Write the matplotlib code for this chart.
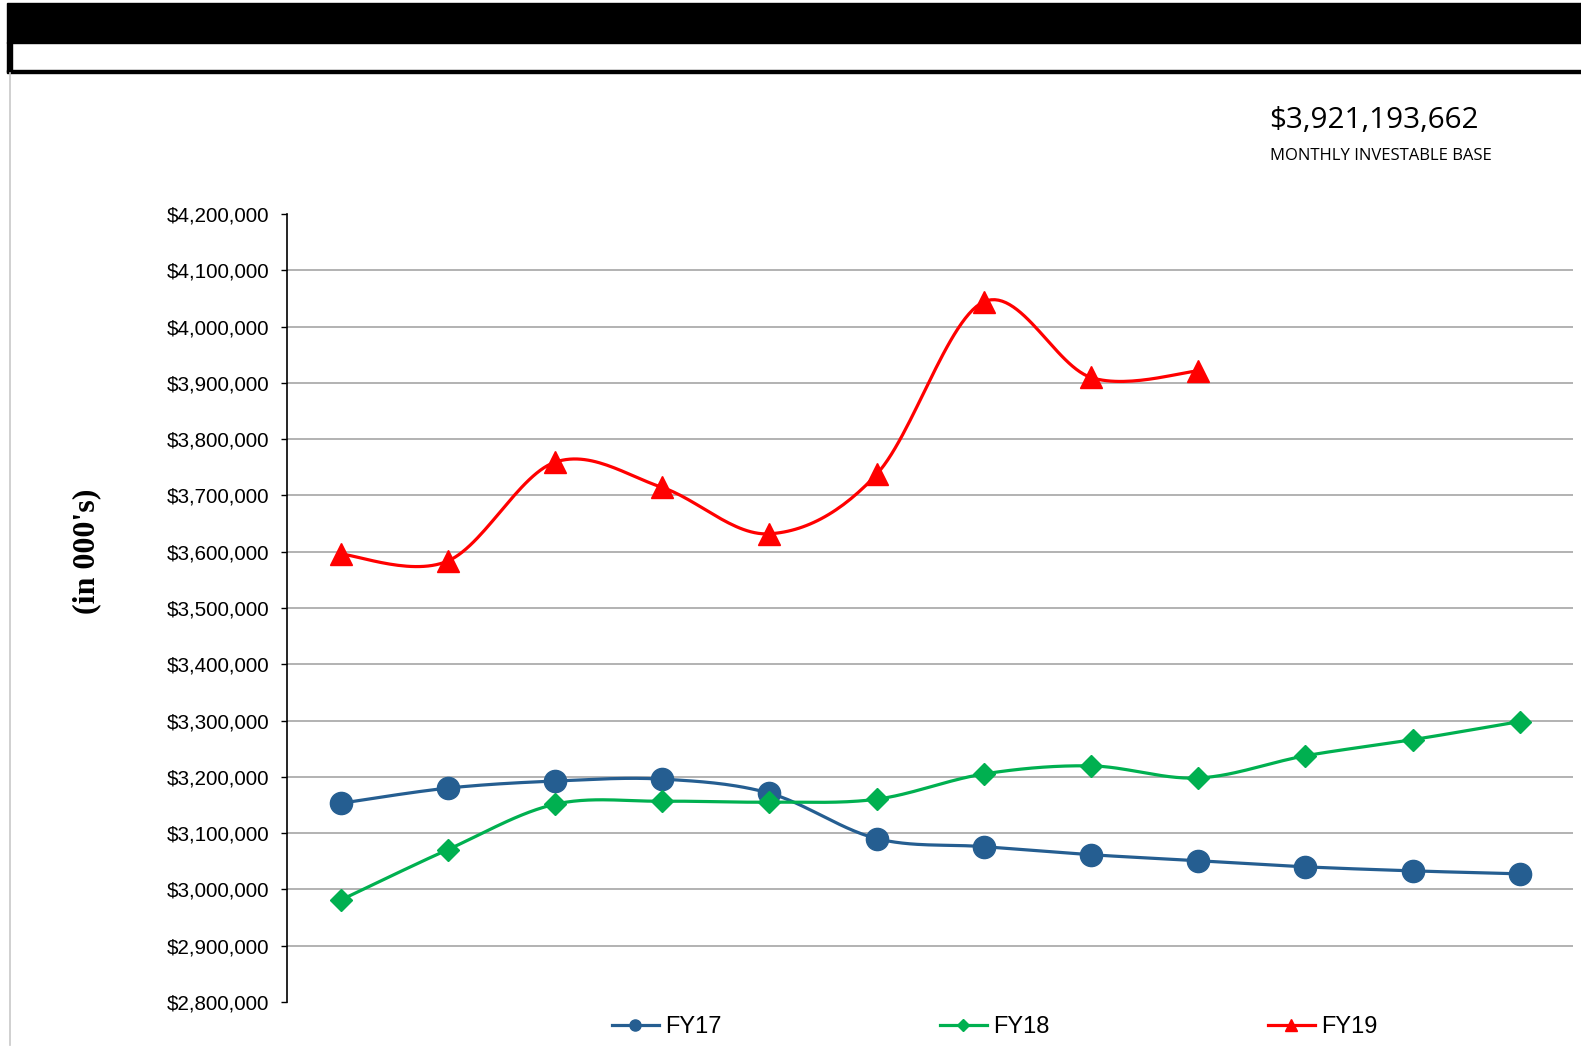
import numpy as np
import matplotlib
matplotlib.use("Agg")
import matplotlib.pyplot as plt
from matplotlib.lines import Line2D
from matplotlib.patches import Rectangle
from matplotlib.ticker import FuncFormatter, MultipleLocator

# monthly investable base, in 000's (fiscal year months, Jul..Jun)
months = ["Jul", "Aug", "Sep", "Oct", "Nov", "Dec", "Jan", "Feb", "Mar", "Apr", "May", "Jun"]
fy17 = [3153000, 3180000, 3192600, 3196000, 3171000, 3090400,
        3076000, 3061700, 3051000, 3040200, 3033000, 3027700]
fy18 = [2981000, 3070700, 3151300, 3156700, 3155000, 3160300,
        3205100, 3219500, 3198000, 3237400, 3266000, 3298300]
fy19 = [3595900, 3583400, 3759000, 3714200, 3631800, 3737500,
        4044000, 3909600, 3921194]

headline = "$3,921,193,662"
subhead = "MONTHLY INVESTABLE BASE"


def smooth(x, y, n=30):
    # Excel-style smoothed line (uniform Catmull-Rom through the points)
    p = np.column_stack([x, y]).astype(float)
    p = np.vstack([p[0], p, p[-1]])
    out = []
    t = np.linspace(0, 1, n)[:, None]
    for i in range(1, len(p) - 2):
        p0, p1, p2, p3 = p[i - 1], p[i], p[i + 1], p[i + 2]
        seg = 0.5 * ((2 * p1) + (-p0 + p2) * t + (2 * p0 - 5 * p1 + 4 * p2 - p3) * t ** 2
                     + (-p0 + 3 * p1 - 3 * p2 + p3) * t ** 3)
        out.append(seg)
    s = np.vstack(out)
    return s[:, 0], s[:, 1]


fig = plt.figure(figsize=(15.81, 10.49), dpi=100)
ax = fig.add_axes([0.1815, 0.0448, 0.8137, 0.7512])

series = [
    ("FY17", fy17, "#255E91", "o", 16, 8),
    ("FY18", fy18, "#00B050", "D", 11.5, 6.5),
    ("FY19", fy19, "#FF0000", "^", 16, 8.5),
]
handles = []
for name, vals, col, mk, ms, lms in series:
    x = np.arange(len(vals))
    sx, sy = smooth(x, vals)
    ax.plot(sx, sy, color=col, lw=2.3, zorder=3)
    ax.plot(x, vals, ls="none", marker=mk, ms=ms, color=col, mec=col, zorder=4)
    handles.append(Line2D([], [], color=col, lw=2.3, marker=mk, ms=lms, label=name))

ax.set_xlim(-0.5, len(months) - 0.5)
ax.set_ylim(2800000, 4200000)
ax.yaxis.set_major_locator(MultipleLocator(100000))
ax.yaxis.set_major_formatter(FuncFormatter(lambda v, p: "${:,.0f}".format(v)))
for v in range(2900000, 4200000, 100000):
    ax.axhline(v, color="#a6a6a6", lw=1.2, zorder=1)

for s in ["top", "right", "bottom"]:
    ax.spines[s].set_visible(False)
ax.spines["left"].set_color("black")
ax.spines["left"].set_linewidth(1.2)
ax.tick_params(axis="x", bottom=False, labelbottom=False)
ax.tick_params(axis="y", length=4, width=1, pad=9, labelsize=14.9)
for lab in ax.get_yticklabels():
    lab.set_fontfamily("Liberation Sans")

fig.text(0.055, 0.474, "(in 000's)", rotation=90, ha="center", va="center",
         fontsize=23, fontweight="bold", family="Liberation Serif")

fig.text(0.8025, 0.878, headline, fontsize=21.3, family="Open Sans", ha="left", va="baseline")
fig.text(0.8035, 0.847, subhead, fontsize=12, family="Open Sans", ha="left", va="baseline")

fig.legend(handles=handles, loc="center", bbox_to_anchor=(0.629, 0.021), ncol=3,
           frameon=False, prop={"family": "Liberation Sans", "size": 17},
           handlelength=2, handletextpad=0.25, columnspacing=9.25)

# header bars
H = 1049.0
W = 1581.0
fig.patches.append(Rectangle((7 / W, 1 - 43 / H), 1, 40 / H, transform=fig.transFigure,
                             color="black", zorder=0))
fig.patches.append(Rectangle((7 / W, 1 - 72 / H), 5 / W, 30 / H, transform=fig.transFigure,
                             color="black", zorder=0))
fig.patches.append(Rectangle((7 / W, 1 - 72.5 / H), 1, 2.5 / H, transform=fig.transFigure,
                             color="black", zorder=0))
fig.lines.append(Line2D([9.5 / W, 9.5 / W], [1 - 73 / H, 1 - 1045 / H], transform=fig.transFigure,
                        color="#c8c8c8", lw=1.2))

fig.savefig("out.png", dpi=100)
